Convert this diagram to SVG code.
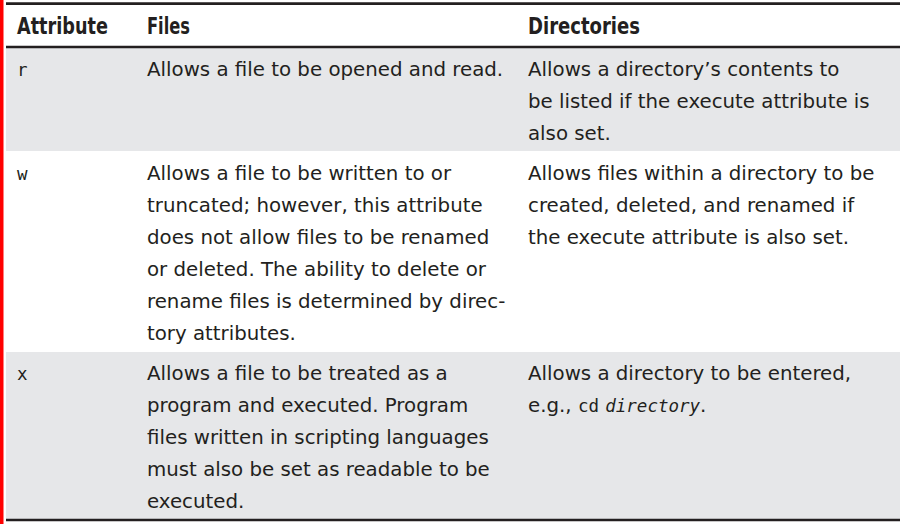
<svg xmlns="http://www.w3.org/2000/svg" width="907" height="524" viewBox="0 0 907 524">
<style>
.bg{fill:#e6e7e9}
.rule{stroke:#231f20;stroke-width:2.6;fill:none}
.h{font-family:"DejaVu Sans",sans-serif;font-weight:bold;font-size:23.5px;fill:#231f20}
.t{font-family:"DejaVu Sans",sans-serif;font-size:19.8px;fill:#231f20}
.m{font-family:"DejaVu Sans Mono","Liberation Mono",monospace;font-size:17.5px;fill:#231f20}
.mi{font-family:"DejaVu Sans Mono","Liberation Mono",monospace;font-size:17.5px;font-style:italic}
</style>
<rect x="0" y="0" width="907" height="524" fill="#ffffff"/>
<rect x="0" y="0" width="3.5" height="524" fill="#ff0000"/>
<g id="row-r">
<rect class="bg" x="6" y="48" width="894" height="103"/>
<text class="m" x="17" y="76">r</text>
<text class="t" x="147" y="76">Allows a file to be opened and read.</text>
<text class="t" x="528" y="76">Allows a directory’s contents to</text>
<text class="t" x="528" y="108">be listed if the execute attribute is</text>
<text class="t" x="528" y="140">also set.</text>
</g>
<g id="row-w">
<text class="m" x="17" y="180">w</text>
<text class="t" x="147" y="180">Allows a file to be written to or</text>
<text class="t" x="147" y="212">truncated; however, this attribute</text>
<text class="t" x="147" y="244">does not allow files to be renamed</text>
<text class="t" x="147" y="276">or deleted. The ability to delete or</text>
<text class="t" x="147" y="308">rename files is determined by direc-</text>
<text class="t" x="147" y="340">tory attributes.</text>
<text class="t" x="528" y="180">Allows files within a directory to be</text>
<text class="t" x="528" y="212">created, deleted, and renamed if</text>
<text class="t" x="528" y="244">the execute attribute is also set.</text>
</g>
<g id="row-x">
<rect class="bg" x="6" y="352" width="894" height="167"/>
<text class="m" x="17" y="380">x</text>
<text class="t" x="147" y="380">Allows a file to be treated as a</text>
<text class="t" x="147" y="412">program and executed. Program</text>
<text class="t" x="147" y="444">files written in scripting languages</text>
<text class="t" x="147" y="476">must also be set as readable to be</text>
<text class="t" x="147" y="508">executed.</text>
<text class="t" x="528" y="380">Allows a directory to be entered,</text>
<text class="t" x="528" y="412">e.g., <tspan class="m">cd</tspan> <tspan class="mi">directory</tspan>.</text>
</g>
<g id="header">
<text class="h" x="17" y="33.5" textLength="91" lengthAdjust="spacingAndGlyphs">Attribute</text>
<text class="h" x="147" y="33.5" textLength="43" lengthAdjust="spacingAndGlyphs">Files</text>
<text class="h" x="528" y="33.5" textLength="112" lengthAdjust="spacingAndGlyphs">Directories</text>
</g>
<g id="rules">
<line class="rule" x1="6" y1="3.6" x2="900" y2="3.6"/>
<line class="rule" x1="6" y1="47" x2="900" y2="47"/>
<line class="rule" x1="6" y1="520" x2="900" y2="520"/>
</g>
</svg>
